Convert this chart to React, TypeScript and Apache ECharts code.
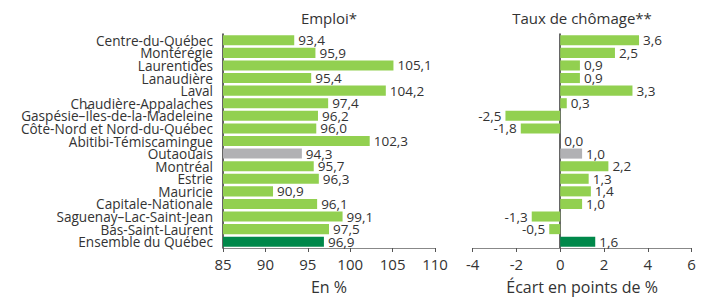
import React, { useEffect, useRef } from "react";
import * as echarts from "echarts";

const regions = [
  "Centre-du-Québec",
  "Montérégie",
  "Laurentides",
  "Lanaudière",
  "Laval",
  "Chaudière-Appalaches",
  "Gaspésie–Îles-de-la-Madeleine",
  "Côte-Nord et Nord-du-Québec",
  "Abitibi-Témiscamingue",
  "Outaouais",
  "Montréal",
  "Estrie",
  "Mauricie",
  "Capitale-Nationale",
  "Saguenay–Lac-Saint-Jean",
  "Bas-Saint-Laurent",
  "Ensemble du Québec",
];

const emploi = [93.4, 95.9, 105.1, 95.4, 104.2, 97.4, 96.2, 96.0, 102.3, 94.3, 95.7, 96.3, 90.9, 96.1, 99.1, 97.5, 96.9];
const chomage = [3.6, 2.5, 0.9, 0.9, 3.3, 0.3, -2.5, -1.8, 0.0, 1.0, 2.2, 1.3, 1.4, 1.0, -1.3, -0.5, 1.6];

const emploiTicks = { min: 85, max: 110, interval: 5 };
const chomageTicks = { min: -4, max: 6, interval: 2 };

const GREEN = "#92D050";
const DARK = "#00884A";
const GRAY = "#B1B1B4";
const FONT = "Open Sans";

function colorFor(name: string) {
  if (name === "Outaouais") return GRAY;
  if (name === "Ensemble du Québec") return DARK;
  return GREEN;
}

const fmt = (v: number) => v.toFixed(1).replace(".", ",");

export default function App() {
  const ref = useRef<HTMLDivElement>(null);
  useEffect(() => {
    document.body.style.margin = "0";
    const chart = echarts.init(ref.current!, null, { renderer: "svg" });
    const labelStyle = { color: "#333", fontSize: 13.5, fontFamily: FONT, distance: 4, lineHeight: 12 };
    const gridTop = 34;
    const gridH = 219;
    chart.setOption({
      animation: false,
      textStyle: { fontFamily: FONT },
      graphic: [
        { type: "text", x: 329, y: 18, style: { text: "Emploi*", fontSize: 15, fontFamily: FONT, fill: "#333", align: "center", verticalAlign: "middle" } },
        { type: "text", x: 582, y: 18, style: { text: "Taux de chômage**", fontSize: 15, fontFamily: FONT, fill: "#333", align: "center", verticalAlign: "middle" } },
      ],
      grid: [
        { left: 223, width: 212, top: gridTop, height: gridH },
        { left: 472.6, width: 219, top: gridTop, height: gridH },
      ],
      xAxis: [
        {
          gridIndex: 0,
          type: "value",
          ...emploiTicks,
          name: "En %",
          nameLocation: "middle",
          nameGap: 31,
          nameTextStyle: { fontSize: 16, color: "#333", fontFamily: FONT },
          axisLine: { show: true, lineStyle: { color: "#888" } },
          axisTick: { show: true, length: 4, lineStyle: { color: "#555" } },
          axisLabel: { fontSize: 15, color: "#333", margin: 8, fontFamily: FONT },
          splitLine: { show: false },
        },
        {
          gridIndex: 1,
          type: "value",
          ...chomageTicks,
          name: "Écart en points de %",
          nameLocation: "middle",
          nameGap: 31,
          nameTextStyle: { fontSize: 16, color: "#333", fontFamily: FONT },
          axisLine: { show: true, onZero: false, lineStyle: { color: "#888" } },
          axisTick: { show: true, length: 4, lineStyle: { color: "#555" } },
          axisLabel: { fontSize: 15, color: "#333", margin: 8, fontFamily: FONT },
          splitLine: { show: false },
        },
      ],
      yAxis: [
        {
          gridIndex: 0,
          type: "category",
          data: regions,
          inverse: true,
          axisLine: { show: true, lineStyle: { color: "#333", width: 1.5 } },
          axisTick: { show: false },
          axisLabel: { interval: 0, hideOverlap: false, fontSize: 13.6, color: "#333", margin: 10, fontFamily: FONT, lineHeight: 12 },
        },
        {
          gridIndex: 1,
          type: "category",
          data: regions,
          inverse: true,
          axisLine: { show: true, onZero: true, lineStyle: { color: "#333", width: 1.5 } },
          axisTick: { show: false },
          axisLabel: { show: false },
        },
      ],
      series: [
        {
          type: "bar",
          xAxisIndex: 0,
          yAxisIndex: 0,
          barCategoryGap: "20%",
          data: emploi.map((v, i) => ({ value: v, itemStyle: { color: colorFor(regions[i]) } })),
          label: { show: true, position: "right", formatter: (p: any) => fmt(p.value), ...labelStyle },
        },
        {
          type: "bar",
          xAxisIndex: 1,
          yAxisIndex: 1,
          barCategoryGap: "20%",
          data: chomage.map((v, i) => ({
            value: v,
            itemStyle: { color: colorFor(regions[i]) },
            label: { position: v < 0 ? "left" : "right" },
          })),
          label: { show: true, formatter: (p: any) => fmt(p.value), ...labelStyle },
        },
      ],
    });
    return () => chart.dispose();
  }, []);
  return <div ref={ref} style={{ width: 705, height: 300 }} />;
}
